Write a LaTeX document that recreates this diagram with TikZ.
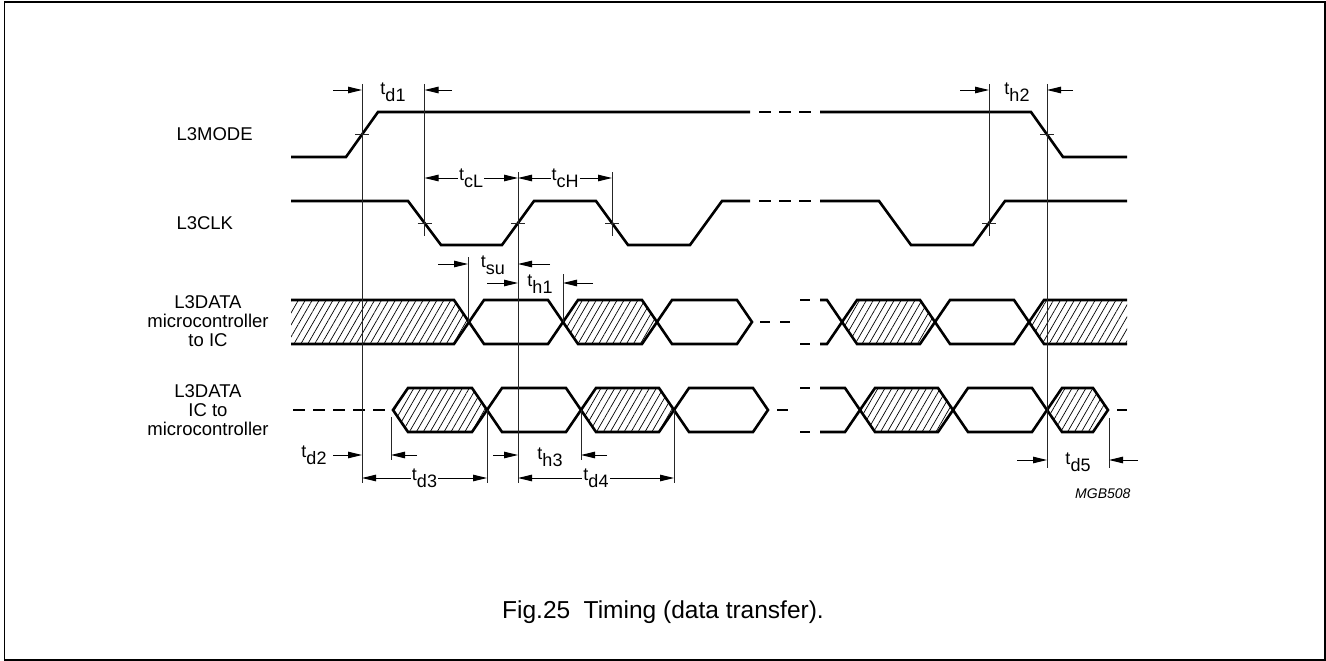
\documentclass[tikz,border=0pt]{standalone}
\usepackage{fontspec}
\setmainfont{Liberation Sans}
\usetikzlibrary{arrows.meta,patterns.meta}

\tikzset{
	sig/.style={line width=2.6pt, line join=miter},
	guide/.style={line width=0.9pt, black!85},
	dim/.style={line width=0.9pt, -{Triangle[length=14pt,width=6.5pt]}},
	dimboth/.style={line width=0.9pt, {Triangle[length=14pt,width=6.5pt]}-{Triangle[length=14pt,width=6.5pt]}},
	hatch/.style={pattern={Lines[angle=60,distance=6pt,line width=0.7pt]}},
	tlab/.style={font=\fontsize{18}{18}\selectfont, inner sep=1pt},
	siglab/.style={font=\fontsize{18.5}{19}\selectfont, align=center},
}
\newcommand{\tsub}[1]{t\raisebox{-7pt}{#1}}

\begin{document}
\begin{tikzpicture}[x=1pt, y=-1pt]
		\useasboundingbox (0,0) rectangle (1326,661);
		\draw[line width=1.8pt] (4.5,2) rectangle (1325,660);
		
		\node[siglab, anchor=west] (mode) at (173,134) {L3MODE};
		\node[siglab, anchor=west] (clk) at (173,223) {L3CLK};
		\node[siglab] (din) at (208,321) {L3DATA\\microcontroller\\to IC};
		\node[siglab] (dout) at (208,410) {L3DATA\\IC to\\microcontroller};
		
		\draw[sig] (291,157) -- (346,157) -- (378,112) -- (750,112);
		\draw[sig] (820,112) -- (1031,112) -- (1063,157) -- (1127,157);
		\draw[sig] (291,201) -- (408,201) -- (441,245) -- (502,245) -- (534,201) -- (596,201) -- (628,245) -- (690,245) -- (722,201) -- (750,201);
		\draw[sig] (820,201) -- (879,201) -- (911,245) -- (973,245) -- (1005,201) -- (1127,201);
		\foreach \y in {112, 201}
			\draw[sig, dash pattern=on 12pt off 8pt] (759,\y) -- (811,\y);
		
		\fill[hatch] (291,300) -- (454,300) -- (469,322) -- (454,344) -- (291,344) -- cycle;
		\draw[sig] (291,300) -- (454,300) -- (469,322) -- (454,344) -- (291,344);
		\fill[hatch] (1127,300) -- (1044,300) -- (1029,322) -- (1044,344) -- (1127,344) -- cycle;
		\draw[sig] (1127,300) -- (1044,300) -- (1029,322) -- (1044,344) -- (1127,344);
		\foreach \a/\b/\m in {563/657/322, 842/935/322, 393/487/410, 581/674/410, 860/953/410, 1047/1108/410}
			\fill[hatch] (\a,\m) -- (\a+15,\m-22) -- (\b-15,\m-22) -- (\b,\m) -- (\b-15,\m+22) -- (\a+15,\m+22) -- cycle;
		\foreach \a/\b/\m in {563/657/322, 842/935/322, 393/487/410, 581/674/410, 860/953/410, 1047/1108/410, 469/563/322, 657/752/322, 935/1029/322, 487/581/410, 674/768/410, 953/1047/410}
			\draw[sig] (\a,\m) -- (\a+15,\m-22) -- (\b-15,\m-22) -- (\b,\m) -- (\b-15,\m+22) -- (\a+15,\m+22) -- cycle;
		\draw[sig] (820,300) -- (827,300) -- (842,322) -- (827,344) -- (820,344);
		\draw[sig] (820,388) -- (845,388) -- (860,410) -- (845,432) -- (820,432);
		
		\foreach \a/\b/\y in {760/770/322, 780/790/322, 800/810/300, 800/810/344, 777/788/410, 800/810/388, 800/810/432, 1117/1127/410}
			\draw[sig] (\a,\y) -- (\b,\y);
		\draw[sig, dash pattern=on 12pt off 8pt] (293,410) -- (387,410);
		
		\foreach \x/\a/\b in {362/84/483, 424.5/84/236, 518/172/483, 612/172/236, 468/257/322, 563/274/322, 989/84/236, 1047/84/468, 391/417/460, 487/410/483, 581/410/460, 674/410/483, 1109/418/468}
			\draw[guide] (\x,\a) -- (\x,\b);
		\foreach \x/\y in {362/134.5, 424.5/223, 518/223, 612/223, 989/223, 1047/134.5}
			\draw[guide] (\x-7,\y) -- (\x+7,\y);
		
		\foreach \a/\b/\y in {333/362/90, 452/424.5/90, 960/989/90, 1073/1047/90, 438/468/264, 550/518/264, 487/518/283, 593/563/283, 333/362/455, 417/391/455, 493/518/455, 607/581/455, 1017/1047/460, 1138/1109/460}
			\draw[dim] (\a,\y) -- (\b,\y);
		\draw[dimboth] (424.5,178) -- node[tlab, fill=white] (tcL) {\tsub{cL}} (518,178);
		\draw[dimboth] (518,178) -- node[tlab, fill=white] (tcH) {\tsub{cH}} (612,178);
		\draw[dimboth] (362,478) -- node[tlab, fill=white] (td3) {\tsub{d3}} (487,478);
		\draw[dimboth] (518,478) -- node[tlab, fill=white] (td4) {\tsub{d4}} (674,478);
		
		\node[tlab] (td1) at (393,92) {\tsub{d1}};
		\node[tlab] (th2) at (1017,92) {\tsub{h2}};
		\node[tlab] (tsu) at (493,265) {\tsub{su}};
		\node[tlab] (th1) at (540,284) {\tsub{h1}};
		\node[tlab] (td2) at (314,455) {\tsub{d2}};
		\node[tlab] (th3) at (550,457) {\tsub{h3}};
		\node[tlab] (td5) at (1078,462) {\tsub{d5}};
		
		\node[font=\itshape\fontsize{14}{14}\selectfont, anchor=east] (code) at (1134,494) {MGB508};
		\node[font=\fontsize{24.5}{25}\selectfont] (caption) at (663,612) {Fig.25\hspace{0.55em}Timing (data transfer).};
	\end{tikzpicture}
\end{document}
